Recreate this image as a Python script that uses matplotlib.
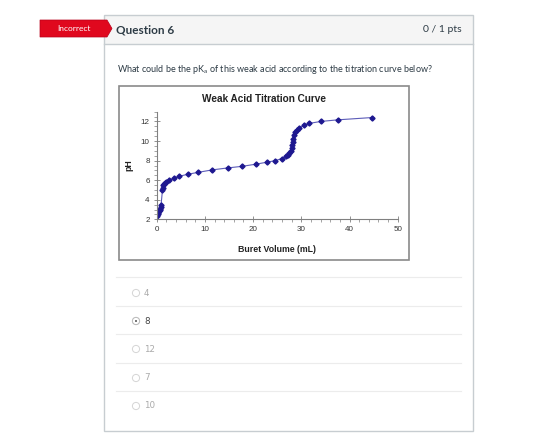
import numpy as np
import matplotlib
matplotlib.use('Agg')
import matplotlib.pyplot as plt
from matplotlib.patches import Rectangle, Polygon, Circle
from matplotlib.ticker import MultipleLocator

plt.rcParams['mathtext.fontset'] = 'custom'
plt.rcParams['mathtext.rm'] = 'Lato'

# titration data
volume = [0, 0.2, 0.35, 0.5, 0.6, 0.75, 0.8, 0.9,
          1.2, 1.25, 1.4, 1.5, 1.7, 1.9,
          2.6, 3.5, 4.7, 6.4, 8.6, 11.5, 14.7, 17.8, 20.5, 22.8, 24.6, 25.9,
          26.8, 27.2, 27.5, 27.8, 28.0, 28.1, 28.2, 28.3, 28.4, 28.7, 29.1, 29.6,
          30.5, 31.6, 34.0, 37.6, 44.6]
ph = [2.37, 2.5, 2.65, 2.8, 2.9, 3.1, 3.3, 3.45,
      5.0, 5.2, 5.5, 5.6, 5.75, 5.8,
      6.0, 6.2, 6.4, 6.6, 6.8, 7.05, 7.25, 7.42, 7.63, 7.83, 8.0, 8.2,
      8.45, 8.6, 8.8, 9.0, 9.3, 9.6, 9.9, 10.2, 10.6, 10.9, 11.15, 11.35,
      11.6, 11.8, 12.0, 12.17, 12.4]

x_ticks = [0, 10, 20, 30, 40, 50]
y_ticks = [2, 4, 6, 8, 10, 12]

choices = ['4', '8', '12', '7', '10']
selected = '8'

W, H = 560, 445
fig = plt.figure(figsize=(W / 100, H / 100), dpi=100)

# page layer in pixel coords
bg = fig.add_axes([0, 0, 1, 1])
bg.set_xlim(0, W)
bg.set_ylim(H, 0)
bg.axis('off')

# question panel
bg.add_patch(Rectangle((104, 15), 369, 29, facecolor='#f5f5f5', edgecolor='none'))
bg.add_patch(Rectangle((104, 15), 369, 416, facecolor='none', edgecolor='#c7cdd1', lw=1))
bg.plot([104, 473], [44, 44], color='#c7cdd1', lw=1)

# red "Incorrect" tag
bg.add_patch(Polygon([(40, 20), (107, 20), (112, 28.5), (107, 37), (40, 37)],
                     closed=True, facecolor='#e0081e', edgecolor='#b8001a', lw=0.5))
bg.text(74, 28.5, 'Incorrect', color='white', fontsize=6, family='Lato',
        ha='center', va='center')

bg.text(116, 30, 'Question 6', fontsize=8.5, family='Lato', weight='bold',
        color='#2d3b45', ha='left', va='center')
bg.text(462, 30, '0 / 1 pts', fontsize=7.5, family='Lato', color='#2d3b45',
        ha='right', va='center')

bg.text(117, 70, r'What could be the pK$_\mathrm{a}$ of this weak acid according to the titration curve below?',
        fontsize=6.5, family='Lato', color='#2d3b45', ha='left', va='center')

# chart frame
bg.add_patch(Rectangle((119, 86), 290, 174, facecolor='white', edgecolor='#8a8a8a', lw=1.2))
bg.text(264.5, 99, 'Weak Acid Titration Curve', fontsize=7.2, family='Liberation Sans',
        weight='bold', color='#222222', ha='center', va='center')

# answer options
sep_y = [277, 306, 334, 363, 391]
opt_y = [293, 321, 349, 378, 406]
for yy in sep_y:
    bg.plot([116, 461], [yy, yy], color='#ececec', lw=0.8)
for c, yy in zip(choices, opt_y):
    bg.add_patch(Circle((136, yy), 3.6, facecolor='white', edgecolor='#d5d5d5', lw=0.7))
    tcol = '#aaaaaa'
    if c == selected:
        bg.add_patch(Circle((136, yy), 3.6, facecolor='white', edgecolor='#bbbbbb', lw=0.7))
        bg.add_patch(Circle((136, yy), 1.0, facecolor='#555555', edgecolor='none'))
        tcol = '#444444'
    bg.text(144, yy, c, fontsize=6.3, family='DejaVu Sans', color=tcol,
            ha='left', va='center')

# titration chart axes
x0, x1, y_top, y_bot = 156.7, 397.7, 111.7, 219.3
ax = fig.add_axes([x0 / W, (H - y_bot) / H, (x1 - x0) / W, (y_bot - y_top) / H])
ax.patch.set_alpha(0)
ax.plot(volume, ph, color='#5c5cb8', lw=0.8, marker='D', markersize=2.6,
        markerfacecolor='#1e1890', markeredgecolor='#1e1890')
ax.set_xlim(0, 50)
ax.set_ylim(2, 13)
ax.set_xticks(x_ticks)
ax.set_yticks(y_ticks)
ax.xaxis.set_minor_locator(MultipleLocator(2))
ax.yaxis.set_minor_locator(MultipleLocator(0.5))
for s in ['top', 'right']:
    ax.spines[s].set_visible(False)
for s in ['left', 'bottom']:
    ax.spines[s].set_color('#808080')
    ax.spines[s].set_linewidth(0.8)
ax.tick_params(which='major', direction='inout', length=4, width=0.6, color='#808080',
               labelsize=5.8, labelcolor='#333333', pad=3)
ax.tick_params(which='minor', direction='out', length=2, width=0.5, color='#808080')
for lab in ax.get_xticklabels() + ax.get_yticklabels():
    lab.set_family('Liberation Sans')

ax.set_xlabel('Buret Volume (mL)', fontsize=6.3, family='Liberation Sans',
              weight='bold', color='#222222')
ax.set_ylabel('pH', fontsize=6.3, family='Liberation Sans', weight='bold', color='#222222')
ax.xaxis.set_label_coords(0.5, -0.24)
ax.yaxis.set_label_coords(-0.097, 0.5)

fig.savefig('out.png', dpi=100)
